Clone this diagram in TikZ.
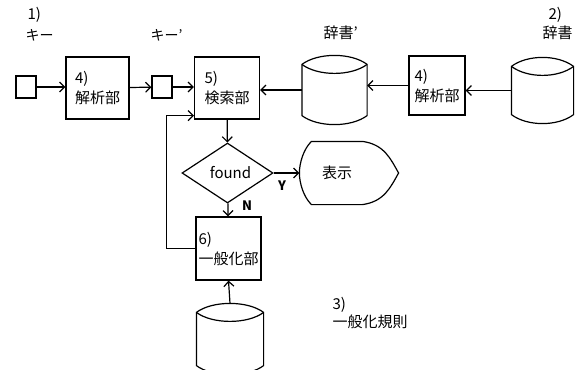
\documentclass[tikz,border=0pt]{standalone}
\usepackage{fontspec}
\setmainfont{Noto Sans CJK JP}
\usetikzlibrary{positioning,calc,shapes.geometric,arrows.meta}

% drum (database) drawn round an empty node
\newcommand{\drawdrum}[1]{%
  \draw ($(#1.north west)+(0,9)$) .. controls +(16,-12) and +(-16,-12) .. ($(#1.north east)+(0,9)$)
    -- ($(#1.south east)+(0,-9)$) .. controls +(-16,12) and +(16,12) .. ($(#1.south west)+(0,-9)$) -- cycle;
  \draw ($(#1.north west)+(0,9)$) .. controls +(16,12) and +(-16,12) .. ($(#1.north east)+(0,9)$);
}

\begin{document}
\begin{tikzpicture}[
  x=1pt,
  y=-1pt,
  line width=1.2pt,
  font=\fontsize{15}{17}\selectfont,
  >={Straight Barb[length=5pt,width=10pt]},
  procbox/.style={
    rectangle,
    draw,
    minimum width=64pt,
    minimum height=62pt,
    inner sep=0pt,
    align=left,
    font=\fontsize{15}{20}\selectfont,
  },
  keybox/.style={
    rectangle,
    draw,
    minimum width=20pt,
    minimum height=22pt,
  },
  drum/.style={
    rectangle,
    minimum width=64pt,
    minimum height=68pt,
  },
  tag/.style={
    inner sep=0pt,
    anchor=west,
  },
  branch/.style={
    inner sep=0pt,
    font=\fontsize{13}{14}\selectfont\bfseries,
  },
  ]
  \clip (0,0) rectangle (585,369);

  % top row
  \node [keybox] (keyA) at (26,87) {};
  \node [procbox,minimum width=63pt] (parseA) at (97.5,88) {4)\\解析部};
  \node [keybox] (keyB) at (162,87) {};
  \node [procbox,minimum width=65pt] (search) at (227,88) {5)\\検索部};
  \node [drum] (dictB) at (334.5,90) {};
  \node [procbox,minimum width=56pt,minimum height=59pt] (parseB) at (437,85.5) {4)\\解析部};
  \node [drum,minimum width=61pt,minimum height=65pt] (dictA) at (542.5,90.5) {};

  % middle column
  \node [diamond,draw,minimum width=91pt,minimum height=60pt,inner sep=0pt] (found) at (227.5,173) {\hspace*{6pt}found};
  \node [minimum width=98pt,minimum height=62pt,label={[xshift=-12pt]center:表示}] (show) at (349,173) {};
  \node [procbox,minimum width=65pt,minimum height=63pt] (general) at (228.5,248.5) {6)\\一般化部};
  \node [drum,minimum width=66pt,minimum height=70pt] (rules) at (230,339) {};

  % captions
  \node [tag] (numA) at (27,15) {1)};
  \node [tag,font=\fontsize{14}{16}\selectfont] (keyAtxt) at (25,35) {キー};
  \node [tag,font=\fontsize{14}{16}\selectfont] (keyBtxt) at (150,35) {キー’};
  \node [tag] (dictBtxt) at (323,33) {辞書’};
  \node [tag] (numB) at (548,15) {2)};
  \node [tag] (dictAtxt) at (542,33) {辞書};
  \node [tag] (numC) at (332,305) {3)};
  \node [tag] (rulestxt) at (332,322) {一般化規則};
  \node [branch] (yes) at (282,186) {Y};
  \node [branch] (no) at (247,206) {N};

  % shapes
  \drawdrum{dictB}
  \drawdrum{dictA}
  \drawdrum{rules}
  \draw ($(show.north west)+(12,0)$) -- ($(show.north west)+(63,0)$)
    .. controls +(22,3) and +(-8,-14) .. (show.east)
    .. controls +(-8,14) and +(22,-3) .. ($(show.south west)+(63,0)$)
    -- ($(show.south west)+(12,0)$)
    .. controls +(-8,-8) and +(0,10) .. (show.west)
    .. controls +(0,-10) and +(-8,8) .. cycle;

  % flow
  \draw [->] (keyA.east) -- (keyA.east -| parseA.west);
  \draw [->] (parseA) -- (keyB);
  \draw [->] (keyB.east) -- (keyB.east -| search.west);
  \draw [->] (dictB.west) -- (dictB.west -| search.east);
  \draw [->] (parseB.west) -- (parseB.west -| dictB.east);
  \draw [->] (dictA.west) -- (dictA.west -| parseB.east);
  \draw [->] (search) -- (found);
  \draw [->] (found.east) -- (show.west);
  \draw [->] (found) -- (general);
  \draw [->] (general.west) -- ++(-29,0) |- ([yshift=4pt]search.south west);
  \draw [->] (rules.north) -- (general.south);
\end{tikzpicture}
\end{document}
